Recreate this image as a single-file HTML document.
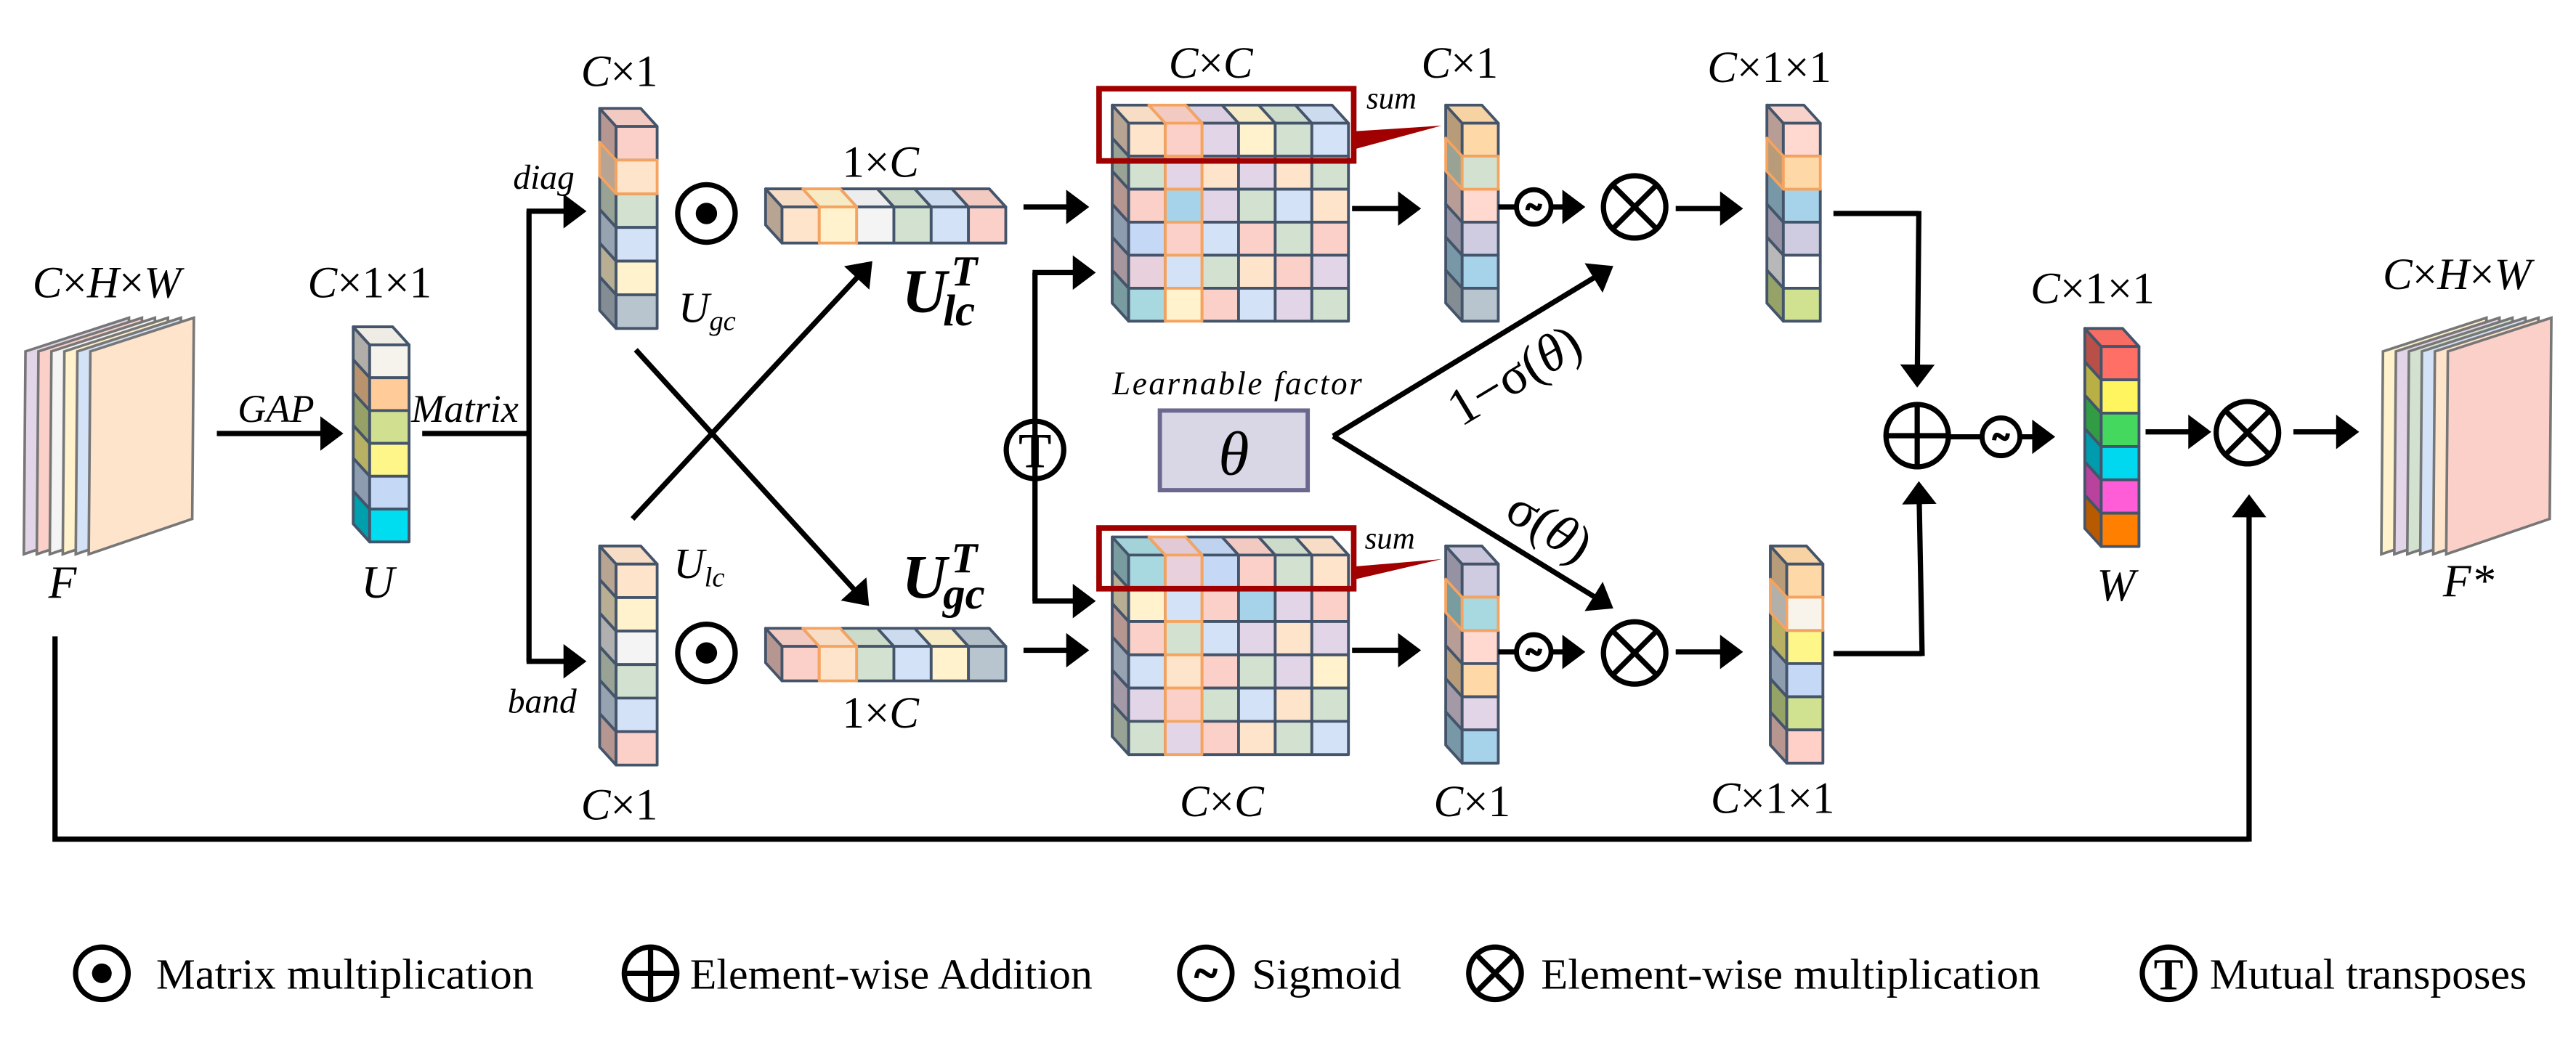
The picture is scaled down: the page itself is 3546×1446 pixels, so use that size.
<!DOCTYPE html>
<html><head><meta charset="utf-8"><style>
html,body{margin:0;padding:0;background:#fff;}
svg{display:block;font-family:"Liberation Serif","Noto Serif CJK SC","DejaVu Serif",serif;}
svg text{font-family:"Liberation Serif","Noto Serif CJK SC","DejaVu Serif",serif;fill:#000;}
.it{font-style:italic;}
</style></head><body>
<svg id="s" xmlns="http://www.w3.org/2000/svg" width="3546" height="1446" viewBox="0 0 1568 639.4">
<rect width="1568" height="639.4" fill="#fff"/>
<g id="shapes"></g>
<g id="lines" stroke="#000" stroke-width="3.2" fill="none"></g>
<g id="heads" fill="#000"></g>
<g id="syms" stroke="#000" stroke-width="3.2" fill="none"></g>

<rect x="669" y="54" width="155" height="44" fill="none" stroke="#A00000" stroke-width="3.4"/>
<polygon points="824,80 877.5,76.5 824,91" fill="#A00000"/>
<rect x="669" y="321.5" width="155" height="37" fill="none" stroke="#A00000" stroke-width="3.4"/>
<polygon points="824,345 877.5,340.5 824,353" fill="#A00000"/>

<rect x="706" y="250" width="90" height="48.5" fill="#D9D6E6" stroke="#6B6890" stroke-width="2.6"/>

<g font-size="27">
<text x="65" y="181" text-anchor="middle"><tspan class="it">C</tspan>×<tspan class="it">H</tspan>×<tspan class="it">W</tspan></text>
<text x="225" y="181" text-anchor="middle"><tspan class="it">C</tspan>×1×1</text>
<text x="377" y="52.5" text-anchor="middle"><tspan class="it">C</tspan>×1</text>
<text x="377" y="499" text-anchor="middle"><tspan class="it">C</tspan>×1</text>
<text x="536" y="107.6" text-anchor="middle">1×<tspan class="it">C</tspan></text>
<text x="536" y="443" text-anchor="middle">1×<tspan class="it">C</tspan></text>
<text x="737" y="47.4" text-anchor="middle"><tspan class="it">C</tspan>×<tspan class="it">C</tspan></text>
<text x="743.7" y="497" text-anchor="middle"><tspan class="it">C</tspan>×<tspan class="it">C</tspan></text>
<text x="888.5" y="47.4" text-anchor="middle"><tspan class="it">C</tspan>×1</text>
<text x="896" y="497" text-anchor="middle"><tspan class="it">C</tspan>×1</text>
<text x="1077" y="50" text-anchor="middle"><tspan class="it">C</tspan>×1×1</text>
<text x="1079" y="495" text-anchor="middle"><tspan class="it">C</tspan>×1×1</text>
<text x="1273.7" y="184.6" text-anchor="middle"><tspan class="it">C</tspan>×1×1</text>
<text x="1495.6" y="176" text-anchor="middle"><tspan class="it">C</tspan>×<tspan class="it">H</tspan>×<tspan class="it">W</tspan></text>
</g>
<g font-size="28" font-style="italic">
<text x="38" y="364" text-anchor="middle">F</text>
<text x="230" y="364" text-anchor="middle">U</text>
<text x="1288" y="365.6" text-anchor="middle">W</text>
<text x="1502.6" y="363" text-anchor="middle">F*</text>
</g>
<g font-style="italic" font-size="24">
<text x="168" y="257" text-anchor="middle">GAP</text>
<text x="283" y="257" text-anchor="middle">Matrix</text>
<text x="331" y="115" text-anchor="middle" font-size="21">diag</text>
<text x="330" y="434" text-anchor="middle" font-size="21">band</text>
<text x="847" y="66" text-anchor="middle" font-size="19">sum</text>
<text x="846" y="334" text-anchor="middle" font-size="19">sum</text>
<text x="753" y="240" text-anchor="middle" font-size="20" textLength="152" lengthAdjust="spacing">Learnable  factor</text>
<text x="751" y="289" text-anchor="middle" font-size="38">θ</text>
<text x="413" y="196" font-size="26">U<tspan font-size="17" dy="5">gc</tspan></text>
<text x="410" y="352" font-size="26">U<tspan font-size="17" dy="5">lc</tspan></text>
</g>
<g font-style="italic" font-weight="bold">
<text x="549" y="190" font-size="38">U</text>
<text x="579" y="174" font-size="26">T</text>
<text x="574" y="198" font-size="27">lc</text>
<text x="549" y="364" font-size="38">U</text>
<text x="579" y="348.6" font-size="26">T</text>
<text x="574" y="370.6" font-size="27">gc</text>
</g>
<text x="921.5" y="239" text-anchor="middle" font-size="32" transform="rotate(-31 921.5 228)">1−σ(<tspan font-style="italic">θ</tspan>)</text>
<text x="943.5" y="331" text-anchor="middle" font-size="32" transform="rotate(32 943.5 320)">σ(<tspan font-style="italic">θ</tspan>)</text>

<g font-size="26">
<text x="95" y="602" textLength="230" lengthAdjust="spacingAndGlyphs">Matrix multiplication</text>
<text x="420" y="602" textLength="245" lengthAdjust="spacingAndGlyphs">Element-wise Addition</text>
<text x="762" y="602" textLength="91" lengthAdjust="spacingAndGlyphs">Sigmoid</text>
<text x="938" y="602" textLength="304" lengthAdjust="spacingAndGlyphs">Element-wise multiplication</text>
<text x="1345" y="602" textLength="193" lengthAdjust="spacingAndGlyphs">Mutual transposes</text>
</g>
<g font-weight="bold" font-size="30">
<text x="630" y="284.5" text-anchor="middle">T</text>
<text x="1320" y="602.5" text-anchor="middle" font-size="27">T</text>
</g>
</svg>
<script>
(function(){
var NS="http://www.w3.org/2000/svg";
var G=document.getElementById('shapes'),L=document.getElementById('lines'),H=document.getElementById('heads'),S=document.getElementById('syms');
function el(p,tag,a){var e=document.createElementNS(NS,tag);for(var k in a)e.setAttribute(k,a[k]);p.appendChild(e);return e;}
function dk(c,f){var n=parseInt(c.slice(1),16),r=n>>16,g=(n>>8)&255,b=n&255;
 r=Math.round(r*f);g=Math.round(g*f);b=Math.round(b*f);return 'rgb('+r+','+g+','+b+')';}
var SC="#44546A",OR="#F4A460",DX=10,DY=11,SW=1.7;
function poly(pts,fill,st){el(G,'polygon',{points:pts.map(function(p){return p[0]+','+p[1]}).join(' '),fill:fill,stroke:st||SC,'stroke-width':SW,'stroke-linejoin':'round'});}
function grid(x,y,cw,ch,C,oc,orow){
 var R=C.length,N=C[0].length,later=[];
 for(var i=0;i<R;i++){var y0=y+i*ch;
  var o=(orow===i)||(oc===0);
  var p=[[x,y0],[x-DX,y0-DY],[x-DX,y0+ch-DY],[x,y0+ch]];
  if(o)later.push([p,dk(C[i][0],0.72)]);else poly(p,dk(C[i][0],0.72));}
 for(var j=0;j<N;j++){var x0=x+j*cw;
  var o=(oc===j)||(orow===0);
  var p=[[x0,y],[x0-DX,y-DY],[x0+cw-DX,y-DY],[x0+cw,y]];
  if(o)later.push([p,dk(C[0][j],0.97)]);else poly(p,dk(C[0][j],0.97));}
 for(var i=0;i<R;i++)for(var j=0;j<N;j++){
  var x0=x+j*cw,y0=y+i*ch,p=[[x0,y0],[x0+cw,y0],[x0+cw,y0+ch],[x0,y0+ch]];
  if(oc===j||orow===i)later.push([p,C[i][j]]);else poly(p,C[i][j]);}
 later.forEach(function(q){poly(q[0],q[1],OR);});
}
function col(x,y,w,h,cs,oi){grid(x,y,w,h,cs.map(function(c){return [c]}),-1,oi);}
function row(x,y,w,h,cs,oi){grid(x,y,w,h,[cs],oi,-1);}
function stack(xf,cols){
 var n=cols.length;
 for(var k=0;k<n;k++){var off=(n-1-k)*7.9;
  var p=[[xf-off,214],[xf+63-off,193.5],[xf+62-off,316],[xf-1-off,337.5]];
  el(G,'polygon',{points:p.map(function(q){return q[0]+','+q[1]}).join(' '),fill:cols[k],stroke:'#777','stroke-width':1.6});}
}
stack(55,['#E3D5E8','#FBD0C8','#F4F4F4','#FFF2CC','#D3E2F6','#FFE4CC']);
stack(1490,['#FFF2CC','#E3D5E8','#D3E2D0','#D3E2F6','#FFE4CC','#FBD0C8']);

col(225,210,24,20,['#F6F2EC','#FFCC99','#D0E090','#FFF68A','#C5D8F5','#00DDF0'],-1);
col(375,77,25,20.5,['#FBD0C8','#FFE4CC','#D3E2D0','#D3E2F6','#FFF2CC','#B8C4CE'],1);
col(375,343.5,25,20.4,['#FFE4CC','#FFF2CC','#F4F4F4','#D3E2D0','#D3E2F6','#FBD0C8'],-1);
row(476,126,22.7,22,['#FFE4CC','#FFF2CC','#F4F4F4','#D3E2D0','#D3E2F6','#FBD0C8'],1);
row(476,393.6,22.7,21,['#FBD0C8','#FFE4CC','#D3E2D0','#D3E2F6','#FFF2CC','#B8C4CE'],1);
var P='#FFE4CC',K='#FBD0C8',V='#E3D5E8',Y='#FFF2CC',E='#D3E2D0',B='#D3E2F6',S1='#A7D3EA',B2='#C5D8F5',PL='#E8D0DC',T='#A8D8E0';
grid(687,75,22.3,20.1,[[P,K,V,Y,E,B],[E,V,P,V,P,E],[K,S1,V,E,B,P],[B2,K,B,K,E,K],[PL,B,E,P,K,V],[T,Y,K,B,V,E]],1,-1);
grid(687,338,22.3,20.25,[[T,PL,B2,K,E,P],[Y,B,K,S1,V,K],[K,E,B,V,P,V],[B,P,K,E,V,Y],[V,K,E,B,P,E],[E,V,K,P,E,B]],1,-1);
col(890,75,22,20.1,['#FFD8A8','#D3E2D0','#FFD8D0','#CFCCE2','#A7D3EA','#B8C4CE'],1);
col(890,343.5,22,20.2,['#CFCCE2','#A8D8E0','#FFD8D0','#FFD8A8','#E3D5E8','#A7D3EA'],1);
col(1085.5,75,22.5,20.1,['#FFD8D0','#FFD8A8','#A7D3EA','#CFCCE2','#FFFFFF','#D0E290'],1);
col(1087.6,343.5,22,20.2,['#FFD8A8','#F8F4EC','#FFF68A','#C5D8F5','#D0E290','#FFD0C8'],1);
col(1279,211,23,20.3,['#FF6F66','#FFF55E','#44D85E','#00D8F0','#FF5CD8','#FF7F00'],-1);

function line(pts){el(L,'polyline',{points:pts.map(function(p){return p[0]+','+p[1]}).join(' ')});}
function arrow(x1,y1,x2,y2){var dx=x2-x1,dy=y2-y1,l=Math.sqrt(dx*dx+dy*dy),ux=dx/l,uy=dy/l,len=14,hw=10.5;
 var bx=x2-ux*len,by=y2-uy*len;line([[x1,y1],[bx+ux,by+uy]]);
 el(H,'polygon',{points:x2+','+y2+' '+(bx-uy*hw)+','+(by+ux*hw)+' '+(bx+uy*hw)+','+(by-ux*hw)});}
arrow(132,264,209,264);
line([[257,264],[322,264]]);line([[322,128.6],[322,402.7]]);
arrow(320.5,128.6,357,128.6);arrow(320.5,402.7,357,402.7);
arrow(387,213,529,369);arrow(385,316,531,159);
arrow(623,126,663,126);arrow(623,396,663,396);
line([[630,166],[630,366]]);arrow(628.5,166,667,166);arrow(628.5,366,667,366);
arrow(823,127,865,127);arrow(823,396,865,396);
line([[912,126],[923,126]]);arrow(944,126,965,126);
line([[912,397],[923,397]]);arrow(944,397,965,397);
arrow(1020,127,1061,127);arrow(1020,397,1061,397);
arrow(811.5,265.6,982,162);arrow(811.5,265.6,982,370.5);
line([[1116,130],[1168,130]]);arrow(1168,128.5,1167,236);
line([[1116,398],[1170,398]]);arrow(1170,399.5,1168,293);
line([[1186,266],[1207,266]]);arrow(1229,266,1251,266);
arrow(1306,263,1346,263);arrow(1396,263,1436,263);
line([[33.5,387.5],[33.5,511],[1369,511]]);arrow(1369,512.5,1369,301);

function circ(cx,cy,r,sw){el(S,'circle',{cx:cx,cy:cy,r:r,'stroke-width':sw||3.2});}
function dot(cx,cy,r,dr){circ(cx,cy,r);el(H,'circle',{cx:cx,cy:cy,r:dr});}
function plus(cx,cy,r){circ(cx,cy,r);line([[cx-r,cy],[cx+r,cy]]);line([[cx,cy-r],[cx,cy+r]]);}
function times(cx,cy,r){circ(cx,cy,r);var a=r*0.707;line([[cx-a,cy-a],[cx+a,cy+a]]);line([[cx-a,cy+a],[cx+a,cy-a]]);}
function sig(cx,cy,r){circ(cx,cy,r,3);var s=r/11;el(S,'path',{d:'M'+(cx-4*s)+','+(cy+2*s)+' C'+(cx-3*s)+','+(cy-7*s)+' '+(cx+3*s)+','+(cy+7*s)+' '+(cx+4*s)+','+(cy-2*s),'stroke-width':2.6});}
dot(430,130,17.5,6.5);dot(430,397.6,17.5,6.5);
circ(630,274,17.5);
sig(933.6,126,10.5);sig(933.6,397,10.5);
times(995,126,19);times(995,397.6,19);
plus(1167,265.3,19);sig(1218,266,11.5);times(1368,263.5,19);
dot(62,592.7,16,6);plus(396,592.7,16);sig(734,592.7,16);times(910,592.7,16);circ(1320,592.7,16);
})();
</script>
</body></html>
